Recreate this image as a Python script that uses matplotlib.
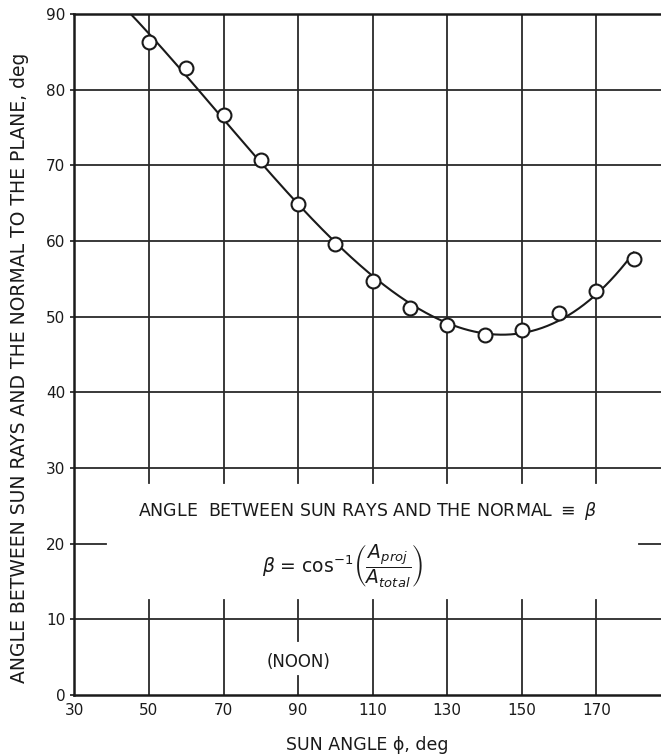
import numpy as np
import matplotlib
matplotlib.use("Agg")
import matplotlib.pyplot as plt

plt.rcParams['font.family'] = ['DejaVu Sans']
plt.rcParams['mathtext.fontset'] = 'dejavusans'

# Sun angle (deg) and angle between sun rays and the plane normal (deg)
sun_angle = [50, 60, 70, 80, 90, 100, 110, 120, 130, 140, 150, 160, 170, 180]
beta_deg = [86.3, 82.9, 76.6, 70.7, 64.9, 59.6, 54.7, 51.2, 48.9, 47.6, 48.3, 50.5, 53.4, 57.6]

x_ticks = [30, 50, 70, 90, 110, 130, 150, 170]
y_ticks = [0, 10, 20, 30, 40, 50, 60, 70, 80, 90]
x_tick_labels = ["30", "50", "70", "90", "110", "130", "150", "170"]
y_tick_labels = ["0", "10", "20", "30", "40", "50", "60", "70", "80", "90"]

ink = "#1a1a1a"
grid_ink = "#2a2a2a"

fig = plt.figure(figsize=(6.61, 7.56), dpi=100)
ax = fig.add_axes([0.1125, 0.0807, 0.8875, 0.9008])
x_min, x_max = 30, 187.3
ax.set_xlim(x_min, x_max)
ax.set_ylim(0, 90)

# Grid, with gaps left open for the annotations
gx_lo, gx_hi = 12.6, 28.0
for gx in x_ticks[1:]:
    if gx == 90:
        segs = [(0, 2.5), (7.1, gx_lo), (gx_hi, 90)]
    else:
        segs = [(0, gx_lo), (gx_hi, 90)]
    for a, b in segs:
        ax.plot([gx, gx], [a, b], color=grid_ink, lw=1.3, zorder=1)
for gy in y_ticks[1:-1]:
    if gy == 20:
        segs = [(x_min, 38.6), (181.4, x_max)]
    else:
        segs = [(x_min, x_max)]
    for a, b in segs:
        ax.plot([a, b], [gy, gy], color=grid_ink, lw=1.3, zorder=1)

# Smooth fitted curve through the measured points
coef = np.polyfit(sun_angle, beta_deg, 3)
xs = np.linspace(40, sun_angle[-1], 400)
ax.plot(xs, np.polyval(coef, xs), color=ink, lw=1.5, zorder=2)

ax.plot(sun_angle, beta_deg, linestyle="none", marker="o", ms=10,
        mfc="white", mec=ink, mew=1.5, zorder=3)

ax.spines["right"].set_visible(False)
for side in ["left", "bottom", "top"]:
    ax.spines[side].set_linewidth(1.8)
    ax.spines[side].set_color(ink)

ax.set_xticks(x_ticks)
ax.set_xticklabels(x_tick_labels)
ax.set_yticks(y_ticks)
ax.set_yticklabels(y_tick_labels)
ax.tick_params(axis="both", labelsize=11, colors=ink, length=3, width=1.2, direction="out")
ax.tick_params(axis="x", length=0, pad=6)

ax.set_xlabel("SUN ANGLE ϕ, deg", fontsize=12.5, color=ink, labelpad=13)
ax.set_ylabel("ANGLE BETWEEN SUN RAYS AND THE NORMAL TO THE PLANE, deg",
              fontsize=13.5, color=ink, labelpad=10)
ax.yaxis.set_label_coords(-0.077, 0.48)

ax.text(108.5, 24.3, r"ANGLE  BETWEEN SUN RAYS AND THE NORMAL $\equiv$ $\beta$",
        ha="center", va="center", fontsize=12.5, color=ink)
ax.text(102, 17.0,
        r"$\beta$ = cos$^{-1}$$\left(\dfrac{A_{proj}}{A_{total}}\right)$",
        ha="center", va="center", fontsize=13.5, color=ink)
ax.text(90, 4.4, "(NOON)", ha="center", va="center", fontsize=12, color=ink)

fig.savefig("out.png", dpi=100)
